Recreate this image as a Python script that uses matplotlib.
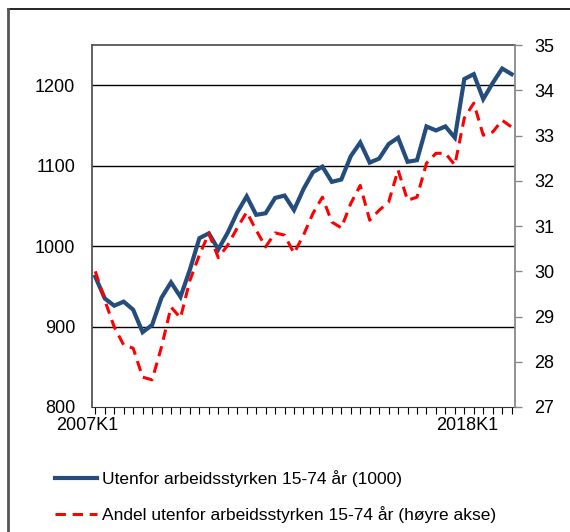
import numpy as np
import matplotlib.pyplot as plt
from matplotlib.lines import Line2D

plt.rcParams['font.family'] = ['Liberation Sans', 'DejaVu Sans']

# quarters 2007K1 .. 2018K1
quarters = [f"{y}K{q}" for y in range(2007, 2019) for q in range(1, 5)][:45]

utenfor = [962, 935, 926, 931, 921, 893, 902, 936, 955, 937,
           971, 1010, 1016, 996, 1017, 1042, 1062, 1039, 1041, 1060,
           1063, 1045, 1071, 1092, 1099, 1080, 1083, 1112, 1129, 1104,
           1109, 1127, 1135, 1105, 1107, 1149, 1144, 1149, 1135, 1208,
           1214, 1183, 1203, 1221, 1214]

andel = [30.0, 29.36, 28.77, 28.37, 28.3, 27.66, 27.6, 28.33, 29.21, 28.97,
         29.8, 30.36, 30.84, 30.3, 30.58, 30.96, 31.31, 30.91, 30.54, 30.85,
         30.8, 30.4, 30.8, 31.28, 31.64, 31.09, 30.96, 31.5, 31.9, 31.13,
         31.35, 31.53, 32.24, 31.57, 31.64, 32.39, 32.61, 32.61, 32.35, 33.39,
         33.72, 33.01, 33.08, 33.34, 33.19]

left_ticks = [800, 900, 1000, 1100, 1200]
right_ticks = [27, 28, 29, 30, 31, 32, 33, 34, 35]

label_blue = "Utenfor arbeidsstyrken 15-74 år (1000)"
label_red = "Andel utenfor arbeidsstyrken 15-74 år (høyre akse)"

blue = '#244C7C'
red = '#FF0000'

fig = plt.figure(figsize=(5.7, 5.32), dpi=100)
ax = fig.add_axes([0.1614, 0.235, 0.742, 0.680])
ax2 = ax.twinx()

x = np.arange(len(quarters))
ax.plot(x, utenfor, color=blue, lw=3.0, solid_joinstyle='miter', zorder=3)
ax2.plot(x, andel, color=red, lw=2.2, dashes=(3.4, 2.2), zorder=3)

ax.set_xlim(-0.35, len(quarters) - 0.65)
ax.set_ylim(800, 1250)
ax2.set_ylim(27, 35)

ax.set_yticks(left_ticks)
ax.set_yticklabels([str(v) for v in left_ticks], fontsize=13)
ax.tick_params(axis='y', length=0, pad=12)
for v in left_ticks[1:]:
    ax.axhline(v, color='black', lw=1.0, zorder=1)

ax2.set_yticks(right_ticks)
ax2.set_yticklabels([str(v) for v in right_ticks], fontsize=13)
ax2.tick_params(axis='y', length=5, color='#888888', width=1, pad=9)

ax.set_xticks(x)
ax.set_xticklabels([])
ax.tick_params(axis='x', length=5, width=0.8, color='black')
ax2.tick_params(axis='x', length=0)

for s in ['left', 'top']:
    ax.spines[s].set_color('#555555')
    ax.spines[s].set_linewidth(1.3)
ax.spines['bottom'].set_color('#333333')
ax.spines['right'].set_visible(False)
ax2.spines['right'].set_color('#888888')
ax2.spines['right'].set_linewidth(1.3)
for s in ['left', 'top', 'bottom']:
    ax2.spines[s].set_visible(False)

# first and last period labels
ax.text(-0.85, -0.05, quarters[0], transform=ax.get_xaxis_transform(),
        ha='center', va='center', fontsize=13)
ax.text(39.3, -0.05, quarters[-1], transform=ax.get_xaxis_transform(),
        ha='center', va='center', fontsize=13)

handles = [Line2D([], [], color=blue, lw=3.0),
           Line2D([], [], color=red, lw=2.2, dashes=(3.4, 2.2))]
fig.legend(handles, [label_blue, label_red], loc='upper left',
           bbox_to_anchor=(0.0965, 0.117), frameon=False, fontsize=12.5,
           handlelength=2.4, handletextpad=0.3, labelspacing=1.1,
           borderpad=0, borderaxespad=0)

# outer frame (top and left edges visible)
fig.add_artist(Line2D([0.014, 1.0], [0.983, 0.983], color='black', lw=1.2,
                      transform=fig.transFigure))
fig.add_artist(Line2D([0.014, 0.014], [0.0, 0.983], color='#555555', lw=2.0,
                      transform=fig.transFigure))

fig.savefig('out.png', dpi=100)
